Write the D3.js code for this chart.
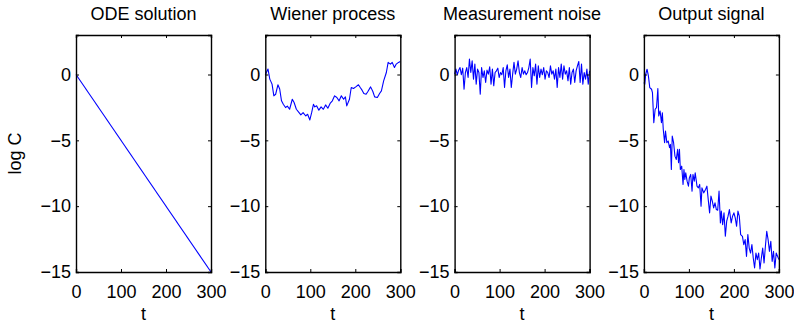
<!DOCTYPE html>
<html>
<head>
<meta charset="utf-8">
<script src="https://cdn.jsdelivr.net/npm/d3@7"></script>
<style>
  html, body { margin: 0; padding: 0; background: #fff; }
  svg { display: block; font-family: "Liberation Sans", Arial, Helvetica, sans-serif; }
</style>
</head>
<body>
<div id="chart"></div>
<script>
// panel titles and axis ticks
const titles = ["ODE solution", "Wiener process", "Measurement noise", "Output signal"];
const xTicks = [0, 100, 200, 300];
const yTicks = [-15, -10, -5, 0];

// ODE solution: straight line log C = -t/20
const odeData = [[0, 0], [300, -15]];

// Wiener process [t, value]
const wienerData = [
  [0, -0.02], [6, 0.41], [10, -0.35], [15, -0.73], [19, -1.62], [23, -1.5], [28, -0.78],
  [32, -1.1], [36, -2.0], [40, -2.26], [45, -2.51], [49, -2.4], [54, -2.64], [60, -1.88],
  [64, -2.13], [69, -2.64], [75, -2.9], [79, -3.07], [84, -2.9], [90, -3.15], [94, -3.02],
  [99, -3.45], [103, -2.9], [107, -2.26], [110, -2.46], [114, -2.38], [119, -2.71],
  [124, -2.46], [129, -2.64], [134, -2.31], [139, -2.56], [144, -2.2], [149, -2.0],
  [154, -1.62], [159, -1.75], [164, -2.0], [169, -1.62], [174, -1.88], [178, -1.7],
  [181, -2.38], [187, -1.88], [191, -0.99], [196, -1.06], [201, -0.94], [207, -0.78],
  [211, -0.99], [215, -1.19], [219, -1.44], [224, -1.5], [228, -1.29], [234, -0.94],
  [239, -1.29], [243, -1.7], [249, -1.75], [254, -1.44], [258, -1.24], [263, -0.48],
  [269, 0.15], [273, 0.92], [278, 0.79], [282, 0.92], [287, 0.53], [291, 0.79],
  [296, 0.92], [300, 0.99]
];

// measurement noise, sampled every 3 time units
const noiseT = d3.range(0, 301, 3);
const noiseValues = [
  0.03, 0.41, -0.02, 0.33, 0.53, -0.02, 0.48, -1.12, 0.15, 0.53,
  -0.23, 1.17, 0.15, 1.04, -0.35, 0.79, -0.73, 0.41, 0.15, -1.50,
  0.53, -0.23, 0.28, -0.61, 0.33, 0.03, 0.59, -0.73, 0.41, -0.86,
  0.15, 0.28, 0.48, -0.23, 0.15, -0.02, 0.53, -0.99, 0.28, 0.74,
  -0.23, 0.41, -0.99, 0.03, 0.92, 0.03, 0.41, 1.04, 0.15, -0.23,
  0.53, 0.03, 0.28, -0.02, 0.15, 0.53, 1.17, -0.99, 0.53, -0.10,
  0.79, -0.73, 0.66, -0.23, 0.41, -0.02, 0.53, -0.35, 0.28, 0.15,
  -0.23, 0.66, 0.03, 0.28, -0.35, 0.41, -0.99, 0.53, -0.23, 0.79,
  -0.35, 0.66, 0.03, 0.28, -0.48, 0.53, -0.73, 0.15, 0.41, -0.61,
  0.28, 0.66, 0.99, -0.61, 0.79, -0.73, 0.15, -0.35, 0.41, -0.73, 0.28
];

// output signal [t, value]
const outputData = [
  [0, -0.61], [2, -0.74], [4, 0.02], [7, 0.40], [10, -0.1], [13, -0.99], [17, -1.12],
  [19, -1.37], [22, -3.66], [25, -2.64], [28, -2.52], [31, -1.07], [33, -3.15], [36, -2.77],
  [39, -3.66], [41, -2.9], [43, -4.16], [46, -5.18], [48, -4.29], [51, -5.18], [54, -5.05],
  [57, -5.56], [59, -5.31], [61, -7.21], [63, -4.67], [66, -5.18], [69, -6.2], [72, -6.45],
  [75, -5.69], [77, -6.7], [79, -5.69], [81, -7.21], [84, -6.96], [87, -8.35], [89, -7.21],
  [91, -7.97], [93, -7.46], [96, -8.1], [99, -8.48], [101, -7.85], [104, -7.59], [107, -8.86],
  [109, -7.59], [112, -8.1], [114, -7.46], [118, -8.48], [121, -8.61], [124, -8.35],
  [127, -10.0], [129, -8.61], [133, -8.99], [137, -8.73], [140, -8.48], [143, -9.5],
  [146, -10.51], [149, -9.24], [152, -9.62], [155, -10.13], [158, -9.75], [161, -10.26],
  [164, -10.31], [167, -8.86], [170, -11.27], [172, -10.38], [175, -11.4], [178, -10.51],
  [181, -12.29], [184, -11.14], [187, -10.76], [190, -10.26], [194, -11.27], [197, -10.76],
  [200, -10.51], [203, -10.89], [206, -11.53], [209, -10.38], [212, -10.76], [215, -12.16],
  [219, -12.29], [222, -12.92], [225, -12.54], [228, -13.81], [231, -12.16], [234, -13.18],
  [237, -13.56], [240, -12.92], [243, -13.94], [246, -14.70], [249, -13.56], [252, -14.06],
  [255, -13.56], [258, -14.77], [261, -13.94], [264, -13.18], [267, -14.32], [270, -13.05],
  [273, -11.91], [276, -12.54], [279, -13.43], [282, -12.67], [285, -14.19], [288, -13.43],
  [291, -14.70], [294, -13.56], [297, -13.81], [300, -14.06]
];

const series = [
  odeData,
  wienerData,
  noiseT.map((t, i) => [t, noiseValues[i]]),
  outputData
];

// --- layout ---
const width = 794, height = 323;
const plotTop = 35, plotBottom = 272;
const plotW = 135, firstLeft = 76, panelStep = 189.3;
const fontSize = 18;

const svg = d3.select("#chart").append("svg")
  .attr("width", width)
  .attr("height", height)
  .attr("viewBox", [0, 0, width, height]);

const x = d3.scaleLinear().domain([0, 300]).range([0, plotW]);
const y = d3.scaleLinear().domain([-15, 3]).range([plotBottom - plotTop, 0]);
const h = plotBottom - plotTop;

const line = d3.line().x(d => x(d[0])).y(d => y(d[1]));

series.forEach((data, i) => {
  const g = svg.append("g")
    .attr("transform", `translate(${firstLeft + i * panelStep},${plotTop})`);

  // data line
  g.append("path")
    .datum(data)
    .attr("fill", "none")
    .attr("stroke", "#0000ff")
    .attr("stroke-width", 1.1)
    .attr("stroke-linejoin", "round")
    .attr("d", line);

  // axes: ticks point inward, labels only bottom & left
  const bottom = g.append("g").attr("transform", `translate(0,${h})`)
    .call(d3.axisBottom(x).tickValues(xTicks).tickSize(-3).tickPadding(13));
  const left = g.append("g")
    .call(d3.axisLeft(y).tickValues(yTicks).tickSize(-3).tickPadding(5).tickFormat(d => d < 0 ? "\u2212" + Math.abs(d) : d));
  const top = g.append("g")
    .call(d3.axisTop(x).tickValues(xTicks).tickSize(-3).tickFormat(""));
  const right = g.append("g").attr("transform", `translate(${plotW},0)`)
    .call(d3.axisRight(y).tickValues(yTicks).tickSize(-3).tickFormat(""));

  [bottom, left, top, right].forEach(a => {
    a.select(".domain").attr("stroke", "#000").attr("stroke-width", 1.4);
    a.selectAll(".tick line").attr("stroke", "#000").attr("stroke-width", 1);
    a.selectAll("text")
      .attr("fill", "#000")
      .style("font-size", fontSize + "px")
      .style("font-family", "'Liberation Sans', Arial, sans-serif");
  });

  // title
  g.append("text")
    .attr("x", plotW / 2)
    .attr("y", 20 - plotTop)
    .attr("text-anchor", "middle")
    .style("font-size", fontSize + "px")
    .text(titles[i]);

  // x label
  g.append("text")
    .attr("x", plotW / 2)
    .attr("y", 320 - plotTop)
    .attr("text-anchor", "middle")
    .style("font-size", fontSize + "px")
    .text("t");
});

// y label
svg.append("text")
  .attr("transform", `translate(21,${(plotTop + plotBottom) / 2}) rotate(-90)`)
  .attr("text-anchor", "middle")
  .style("font-size", fontSize + "px")
  .text("log C");
</script>
</body>
</html>
